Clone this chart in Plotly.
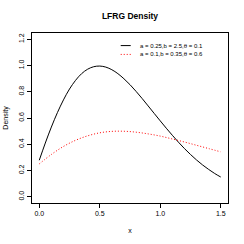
import plotly.graph_objects as go

# Values
x_black = [0.00, 0.05, 0.10, 0.15, 0.20, 0.25, 0.30, 0.35, 0.40, 0.45, 0.50, 0.55, 0.60,
           0.65, 0.70, 0.75, 0.80, 0.85, 0.90, 0.95, 1.00, 1.05, 1.10, 1.15, 1.20, 1.25,
           1.30, 1.35, 1.40, 1.45, 1.50]
y_black = [0.278, 0.409, 0.531, 0.641, 0.738, 0.821, 0.887, 0.938, 0.972, 0.991, 0.996,
           0.988, 0.968, 0.938, 0.899, 0.854, 0.803, 0.749, 0.692, 0.635, 0.578, 0.522,
           0.468, 0.416, 0.367, 0.322, 0.280, 0.242, 0.208, 0.177, 0.150]
x_red = [0.0, 0.1, 0.2, 0.3, 0.4, 0.5, 0.6, 0.7, 0.8, 0.9, 1.0, 1.1, 1.2, 1.3, 1.4, 1.5]
y_red = [0.250, 0.322, 0.383, 0.430, 0.464, 0.487, 0.498, 0.499, 0.492, 0.479, 0.462,
         0.440, 0.417, 0.392, 0.367, 0.342]
legend_labels = ["a = 0.25,b = 2.5,θ = 0.1", "a = 0.1,b = 0.35,θ = 0.6"]
x_ticks = [0.0, 0.5, 1.0, 1.5]
x_tick_labels = ["0.0", "0.5", "1.0", "1.5"]
y_ticks = [0.0, 0.2, 0.4, 0.6, 0.8, 1.0, 1.2]
y_tick_labels = ["0.0", "0.2", "0.4", "0.6", "0.8", "1.0", "1.2"]

FONT = "Liberation Sans, Arial, sans-serif"
line_styles = [dict(color="black", width=1, shape="spline"),
               dict(color="red", width=1, dash="1px,2px", shape="spline")]

fig = go.Figure()
fig.add_trace(go.Scatter(x=x_black, y=y_black, mode="lines", name=legend_labels[0],
                         line=line_styles[0], showlegend=False, hoverinfo="skip"))
fig.add_trace(go.Scatter(x=x_red, y=y_red, mode="lines", name=legend_labels[1],
                         line=line_styles[1], showlegend=False, hoverinfo="skip"))

# Manual legend (R-style, no box)
legend_rows_y = [0.926, 0.874]
for label, ly, st in zip(legend_labels, legend_rows_y, line_styles):
    fig.add_shape(type="line", xref="paper", yref="paper",
                  x0=0.4526, x1=0.5036, y0=ly, y1=ly,
                  line=dict(color=st["color"], width=1, dash=st.get("dash", "solid")))
    fig.add_annotation(text=label, xref="paper", yref="paper", x=0.542, y=ly,
                       xanchor="left", yanchor="middle", showarrow=False,
                       font=dict(size=6, family=FONT, color="black"))

fig.update_layout(
    width=244, height=244,
    margin=dict(l=32, r=16, t=33, b=41),
    paper_bgcolor="white", plot_bgcolor="white",
    font=dict(family=FONT, size=7, color="black"),
    title=dict(text="<b>LFRG Density</b>", x=(32 + 228) / 2 / 244, xanchor="center",
               yref="container", y=1 - 16.5 / 244, yanchor="middle",
               font=dict(size=8.5, family=FONT, color="black")),
    showlegend=False,
)
fig.update_xaxes(range=[-0.06, 1.56], tickvals=x_ticks, ticktext=x_tick_labels,
                 showgrid=False, zeroline=False, showline=True, mirror=True,
                 linecolor="black", linewidth=1, ticks="outside", ticklen=4,
                 tickcolor="black", tickfont=dict(size=7, color="black"),
                 automargin=False,
                 title=dict(text="x", font=dict(size=7, color="black"), standoff=11))
fig.update_yaxes(range=[-0.048, 1.248], tickvals=y_ticks, ticktext=y_tick_labels,
                 showgrid=False, zeroline=False, showline=True, mirror=True,
                 linecolor="black", linewidth=1, ticks="outside", ticklen=4,
                 tickcolor="black", tickfont=dict(size=7, color="black"), tickangle=-90,
                 automargin=False,
                 title=dict(text="Density", font=dict(size=7, color="black"), standoff=8))

fig.write_html("out.html", config={"displayModeBar": False},
               post_script="document.body.style.margin='0';document.body.style.overflow='hidden';")
